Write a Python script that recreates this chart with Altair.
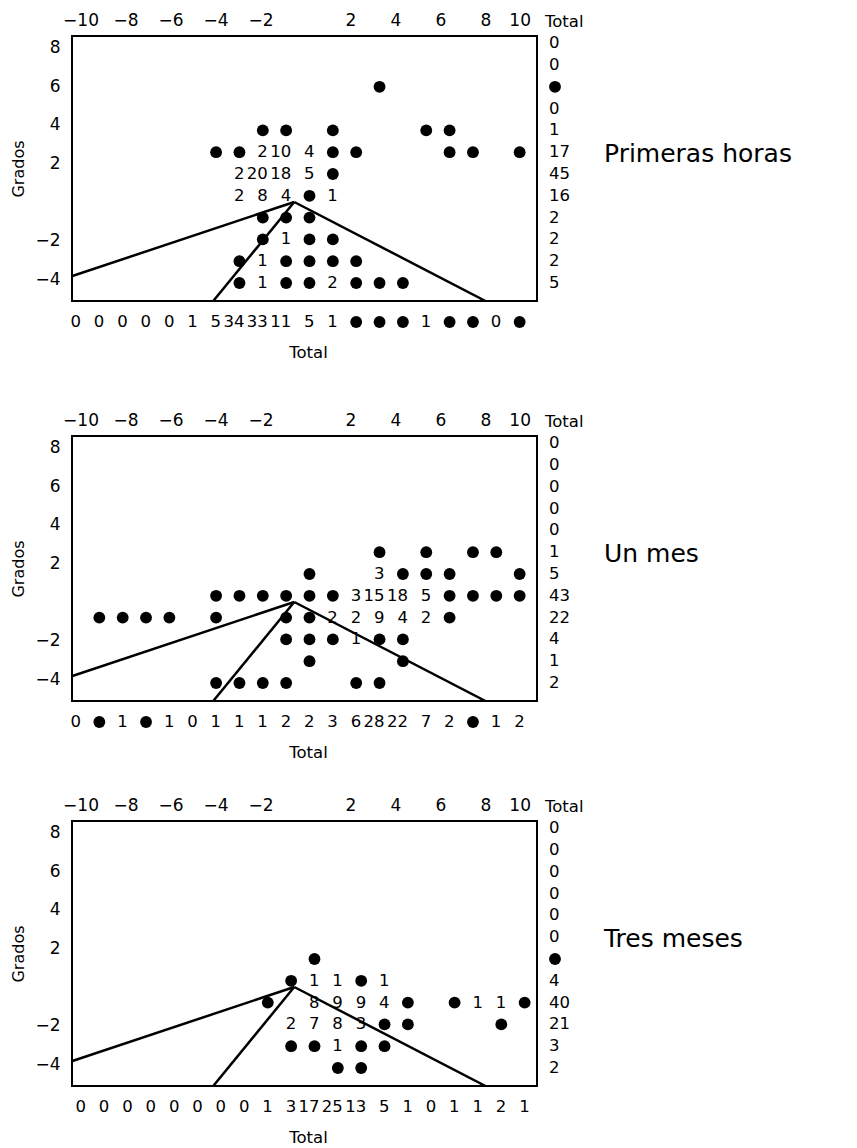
import altair as alt
import pandas as pd

FONT = "DejaVu Sans"
DOT = "●"

# ---------------- data ----------------
TOP_TICKS = [-10, -8, -6, -4, -2, 2, 4, 6, 8, 10]
LEFT_TICKS = [8, 6, 4, 2, -2, -4]
TITLES = ["Primeras horas", "Un mes", "Tres meses"]

# grid cells: (column 0..19, row 0..11 from bottom, label) ; "●" is drawn as a dot
P1_CELLS = [
    (13, 9, "●"),
    (8, 7, "●"), (9, 7, "●"), (11, 7, "●"), (15, 7, "●"), (16, 7, "●"),
    (6, 6, "●"), (7, 6, "●"), (8, 6, "2"), (9, 6, "10"), (10, 6, "4"), (11, 6, "●"),
    (12, 6, "●"), (16, 6, "●"), (17, 6, "●"), (19, 6, "●"),
    (7, 5, "2"), (8, 5, "20"), (9, 5, "18"), (10, 5, "5"), (11, 5, "●"),
    (7, 4, "2"), (8, 4, "8"), (9, 4, "4"), (10, 4, "●"), (11, 4, "1"),
    (8, 3, "●"), (9, 3, "●"), (10, 3, "●"),
    (8, 2, "●"), (9, 2, "1"), (10, 2, "●"), (11, 2, "●"),
    (7, 1, "●"), (8, 1, "1"), (9, 1, "●"), (10, 1, "●"), (11, 1, "●"), (12, 1, "●"),
    (7, 0, "●"), (8, 0, "1"), (9, 0, "●"), (10, 0, "●"), (11, 0, "2"), (12, 0, "●"),
    (13, 0, "●"), (14, 0, "●"),
]
P1_ROW_TOTALS = ["0", "0", "●", "0", "1", "17", "45", "16", "2", "2", "2", "5"]
P1_COL_TOTALS = ["0", "0", "0", "0", "0", "1", "5", "34", "33", "11", "5", "1",
                 "●", "●", "●", "1", "●", "●", "0", "●"]

P2_CELLS = [
    (13, 6, "●"), (15, 6, "●"), (17, 6, "●"), (18, 6, "●"),
    (10, 5, "●"), (13, 5, "3"), (14, 5, "●"), (15, 5, "●"), (16, 5, "●"), (19, 5, "●"),
    (6, 4, "●"), (7, 4, "●"), (8, 4, "●"), (9, 4, "●"), (10, 4, "●"), (11, 4, "●"),
    (12, 4, "3"), (13, 4, "15"), (14, 4, "18"), (15, 4, "5"), (16, 4, "●"), (17, 4, "●"),
    (18, 4, "●"), (19, 4, "●"),
    (1, 3, "●"), (2, 3, "●"), (3, 3, "●"), (4, 3, "●"), (6, 3, "●"), (9, 3, "●"),
    (10, 3, "●"), (11, 3, "2"), (12, 3, "2"), (13, 3, "9"), (14, 3, "4"), (15, 3, "2"),
    (16, 3, "●"),
    (9, 2, "●"), (10, 2, "●"), (11, 2, "●"), (12, 2, "1"), (13, 2, "●"), (14, 2, "●"),
    (10, 1, "●"), (14, 1, "●"),
    (6, 0, "●"), (7, 0, "●"), (8, 0, "●"), (9, 0, "●"), (12, 0, "●"), (13, 0, "●"),
]
P2_ROW_TOTALS = ["0", "0", "0", "0", "0", "1", "5", "43", "22", "4", "1", "2"]
P2_COL_TOTALS = ["0", "●", "1", "●", "1", "0", "1", "1", "1", "2", "2", "3", "6",
                 "28", "22", "7", "2", "●", "1", "2"]

P3_CELLS = [
    (10, 5, "●"),
    (9, 4, "●"), (10, 4, "1"), (11, 4, "1"), (12, 4, "●"), (13, 4, "1"),
    (8, 3, "●"), (10, 3, "8"), (11, 3, "9"), (12, 3, "9"), (13, 3, "4"), (14, 3, "●"),
    (16, 3, "●"), (17, 3, "1"), (18, 3, "1"), (19, 3, "●"),
    (9, 2, "2"), (10, 2, "7"), (11, 2, "8"), (12, 2, "3"), (13, 2, "●"), (14, 2, "●"),
    (18, 2, "●"),
    (9, 1, "●"), (10, 1, "●"), (11, 1, "1"), (12, 1, "●"), (13, 1, "●"),
    (11, 0, "●"), (12, 0, "●"),
]
P3_ROW_TOTALS = ["0", "0", "0", "0", "0", "0", "●", "4", "40", "21", "3", "2"]
P3_COL_TOTALS = ["0", "0", "0", "0", "0", "0", "0", "0", "1", "3", "17", "25", "13",
                 "5", "1", "0", "1", "1", "2", "1"]

# reference lines (x in top-axis units, y in Grados)
SEG_X1 = [-10.4, -0.5, -0.5]
SEG_Y1 = [-3.85, 0.0, 0.0]
SEG_X2 = [-0.5, 8.0, -4.1]
SEG_Y2 = [0.0, -5.13, -5.13]

# ---------------- layout ----------------
W, H = 465, 265
TOP_DOMAIN = [-10.378, 10.289]
GRADOS_DOMAIN = [-5.13, 8.60]
ROW_DOMAIN = [-0.826, 11.33]
COL_DOMAIN_A = [-0.171, 19.743]
COL_DOMAIN_B = [-0.385, 19.529]
NUM_SIZE = 16.5
DOT_SIZE = 140


def panel(cells, row_tot, col_tot, title, col_domain):
    xcol = alt.X("col:Q", scale=alt.Scale(domain=col_domain, nice=False, zero=False), axis=None)
    yrow = alt.Y("row:Q", scale=alt.Scale(domain=ROW_DOMAIN, nice=False, zero=False), axis=None)
    cdf = pd.DataFrame(cells, columns=["col", "row", "label"])
    rdf = pd.DataFrame({"row": list(range(len(row_tot) - 1, -1, -1)), "label": row_tot})
    bdf = pd.DataFrame({"col": list(range(len(col_tot))), "label": col_tot})
    seg = pd.DataFrame({"x": SEG_X1, "y": SEG_Y1, "x2": SEG_X2, "y2": SEG_Y2})

    lines = alt.Chart(seg).mark_rule(color="black", strokeWidth=2.5, clip=True).encode(
        x=alt.X("x:Q", scale=alt.Scale(domain=TOP_DOMAIN, nice=False, zero=False),
                axis=alt.Axis(orient="top", values=TOP_TICKS, ticks=False, domain=False,
                              grid=False, labelPadding=7, labelFontSize=17, title=None,
                              labelFlush=False, labelOverlap=False,
                              labelAlign={"condition": {"test": "datum.value == 10", "value": "right"},
                                          "value": "center"})),
        y=alt.Y("y:Q", scale=alt.Scale(domain=GRADOS_DOMAIN, nice=False, zero=False),
                axis=alt.Axis(orient="left", values=LEFT_TICKS, ticks=False, domain=False,
                              grid=False, labelPadding=12, labelFontSize=17, title="Grados",
                              titleFontSize=16, titleFontWeight="normal", titlePadding=8,
                              labelFlush=False, labelOverlap=False)),
        x2="x2:Q",
        y2="y2:Q",
    )
    dots = alt.Chart(cdf).transform_filter(alt.datum.label == DOT).mark_circle(
        size=DOT_SIZE, color="black", opacity=1).encode(x=xcol, y=yrow)
    nums = alt.Chart(cdf).transform_filter(alt.datum.label != DOT).mark_text(
        font=FONT, fontSize=NUM_SIZE, align="right", dx=5, baseline="middle", color="black"
    ).encode(x=xcol, y=yrow, text="label:N")
    rdots = alt.Chart(rdf).transform_filter(alt.datum.label == DOT).mark_circle(
        size=DOT_SIZE, color="black", opacity=1).encode(x=alt.value(W + 18), y=yrow)
    rnums = alt.Chart(rdf).transform_filter(alt.datum.label != DOT).mark_text(
        font=FONT, fontSize=NUM_SIZE, align="left", baseline="middle", color="black"
    ).encode(x=alt.value(W + 12), y=yrow, text="label:N")
    bdots = alt.Chart(bdf).transform_filter(alt.datum.label == DOT).mark_circle(
        size=DOT_SIZE, color="black", opacity=1).encode(x=xcol, y=alt.value(H + 21))
    bnums = alt.Chart(bdf).transform_filter(alt.datum.label != DOT).mark_text(
        font=FONT, fontSize=NUM_SIZE, align="right", dx=5, baseline="middle", color="black"
    ).encode(x=xcol, y=alt.value(H + 21), text="label:N")
    tdf = pd.DataFrame({"t": ["Total"]})
    hdr = alt.Chart(tdf).mark_text(font=FONT, fontSize=NUM_SIZE, align="left",
                                   baseline="middle", color="black").encode(
        text="t:N", x=alt.value(W + 8), y=alt.value(-14))
    btm = alt.Chart(tdf).mark_text(font=FONT, fontSize=NUM_SIZE, align="center",
                                   baseline="middle", color="black").encode(
        text="t:N", x=alt.value(W / 2 + 4), y=alt.value(H + 52))
    ttl = alt.Chart(pd.DataFrame({"t": [title]})).mark_text(
        font=FONT, fontSize=25, align="left", baseline="middle", color="black").encode(
        text="t:N", x=alt.value(W + 67), y=alt.value(118))
    return alt.layer(lines, dots, nums, rdots, rnums, bdots, bnums, hdr, btm, ttl).resolve_scale(
        x="independent", y="independent").properties(width=W, height=H)


p1 = panel(P1_CELLS, P1_ROW_TOTALS, P1_COL_TOTALS, TITLES[0], COL_DOMAIN_A)
p2 = panel(P2_CELLS, P2_ROW_TOTALS, P2_COL_TOTALS, TITLES[1], COL_DOMAIN_A)
p3 = panel(P3_CELLS, P3_ROW_TOTALS, P3_COL_TOTALS, TITLES[2], COL_DOMAIN_B)

chart = alt.vconcat(alt.vconcat(p1, p2, spacing=47), p3, spacing=32).properties(
    padding={"left": 1, "top": 2, "right": 5, "bottom": 2}
).configure_view(stroke="black", strokeWidth=2).configure_axis(
    labelFont=FONT, titleFont=FONT, labelColor="black", titleColor="black",
    titleFontSize=16
).configure_concat(spacing=40)

chart.save("out.html", embed_options={"renderer": "svg", "actions": False})
